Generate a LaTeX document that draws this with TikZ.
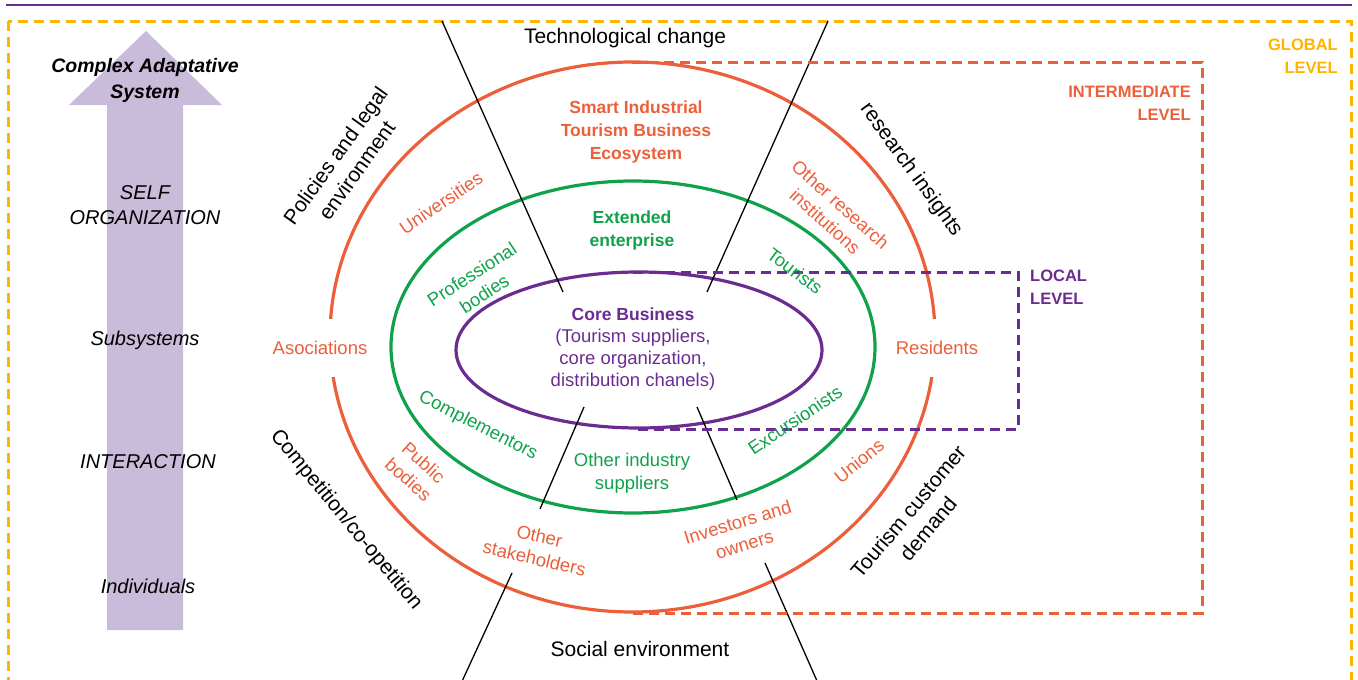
\documentclass[tikz,border=0pt]{standalone}
\usepackage{fontspec}
\setmainfont{Liberation Sans}
\definecolor{gold}{HTML}{FFB400}
\definecolor{ired}{HTML}{EB5F3B}
\definecolor{egreen}{HTML}{10A24B}
\definecolor{cpurple}{HTML}{6B2C91}
\definecolor{lav}{HTML}{C9BCDA}
\begin{document}
\begin{tikzpicture}[x=1pt,y=-1pt,
  blk/.style={font=\fontsize{21}{26}\selectfont, align=center, inner sep=0pt},
  lbl/.style={font=\fontsize{18.5}{23}\selectfont, align=center, inner sep=0pt},
  bld/.style={font=\bfseries\fontsize{17.5}{23}\selectfont, align=center, inner sep=0pt},
  lvl/.style={font=\bfseries\fontsize{16.5}{23}\selectfont, inner sep=0pt},
  arr/.style={font=\itshape\fontsize{20}{25}\selectfont, align=center, inner sep=0pt},
  ring/.style={line width=3.2pt},
  conn/.style={line width=1.3pt, black},
  dbox/.style={line width=3pt, dash pattern=on 10pt off 6pt},
  gap/.style={fill=white, minimum height=58pt, inner xsep=2pt, inner ysep=0pt}]
\useasboundingbox (0,0) rectangle (1358,680);
\clip (0,0) rectangle (1358,680);
% top rule
\draw[cpurple, line width=2pt] (6,5) -- (1352,5);
% big arrow
\fill[lav] (146,31) -- (222,105) -- (183,105) -- (183,630) -- (107,630) -- (107,105) -- (69,105) -- cycle;
% global frame
\draw[gold, dbox] (8,21) rectangle (1351,720);
% rings
\draw[ired, ring] (632.5,337) ellipse [x radius=302.5, y radius=275];
\draw[egreen, ring] (633,347) ellipse [x radius=242, y radius=166];
\draw[cpurple, ring] (639,350) ellipse [x radius=183, y radius=78];
% connector coordinates
\coordinate (l1a) at (442,21);
\coordinate (l1b) at (563,292);
\coordinate (l2a) at (828,21);
\coordinate (l2b) at (707,292);
\coordinate (l3a) at (584,407);
\coordinate (l3b) at (540,509);
\coordinate (l3c) at (512,573);
\coordinate (l3d) at (458,690);
\coordinate (l4a) at (697,407);
\coordinate (l4b) at (737,500);
\coordinate (l4c) at (765,563);
\coordinate (l4d) at (821,690);
\draw[conn] (l1a) -- (l1b);
\draw[conn] (l2a) -- (l2b);
\draw[conn] (l3a) -- (l3b);
\draw[conn] (l3c) -- (l3d);
\draw[conn] (l4a) -- (l4b);
\draw[conn] (l4c) -- (l4d);
% level frames
\draw[ired, dbox] (632,62) -- (1202,62) -- (1202,613) -- (632,613);
\draw[cpurple, dbox] (633,272) -- (1018,272) -- (1018,429) -- (633,429);
% level labels
\node[lvl, gold, anchor=east, align=right] (glob) at (1338,56.5) {GLOBAL\\LEVEL};
\node[lvl, ired, anchor=east, align=right] (inter) at (1191,103.5) {INTERMEDIATE\\LEVEL};
\node[lvl, cpurple, anchor=west, align=left] (loc) at (1030,287) {LOCAL\\LEVEL};
% arrow texts
\node[arr, font=\bfseries\itshape\fontsize{19.5}{26}\selectfont] (cas) at (145,80) {Complex Adaptative\\System};
\node[arr] (self) at (145,205) {SELF\\ORGANIZATION};
\node[arr] (subs) at (145,340) {Subsystems};
\node[arr] (inta) at (148,462) {INTERACTION};
\node[arr] (indiv) at (148,586) {Individuals};
% environment labels
\node[blk] (tech) at (625,38) {Technological change};
\node[blk] (soc) at (640,649) {Social environment};
\node[blk, rotate=54.5] (pol) at (346,163) {Policies and legal\\environment};
\node[blk, rotate=-54] (resins) at (911,170) {research insights};
\node[blk, rotate=-50.5] (comp) at (346,520) {Competition/co-opetition};
\node[blk, rotate=50] (tcd) at (918,520) {Tourism customer\\demand};
% intermediate level labels
\node[bld, ired] (smart) at (636,132) {Smart Industrial\\Tourism Business\\Ecosystem};
\node[lbl, ired, rotate=34] (univ) at (441,203) {Universities};
\node[lbl, ired, rotate=-42] (orinst) at (833,213) {Other research\\institutions};
\node[lbl, ired, gap] (asoc) at (320,348) {Asociations};
\node[lbl, ired, gap] (resid) at (937,348) {Residents};
\node[lbl, ired, rotate=-42] (pub) at (416,471) {Public\\bodies};
\node[lbl, ired, rotate=39] (unions) at (859,461) {Unions};
\node[lbl, ired, rotate=-13] (ostake) at (537,547) {Other\\stakeholders};
\node[lbl, ired, rotate=17] (invest) at (741,533) {Investors and\\owners};
% extended enterprise labels
\node[bld, egreen] (ext) at (632,230) {Extended\\enterprise};
\node[lbl, egreen, rotate=33] (prof) at (478,284) {Professional\\bodies};
\node[lbl, egreen, rotate=-37] (tour) at (795,271) {Tourists};
\node[lbl, egreen, rotate=-27] (compl) at (478,426) {Complementors};
\node[lbl, egreen] (oind) at (632,473) {Other industry\\suppliers};
\node[lbl, egreen, rotate=34] (exc) at (795,420) {Excursionists};
% core
\node[lbl, cpurple, font=\fontsize{18.5}{22}\selectfont] (core) at (633,349) {{\bfseries\fontsize{17.5}{22}\selectfont Core Business}\\(Tourism suppliers,\\core organization,\\distribution chanels)};
\end{tikzpicture}
\end{document}
